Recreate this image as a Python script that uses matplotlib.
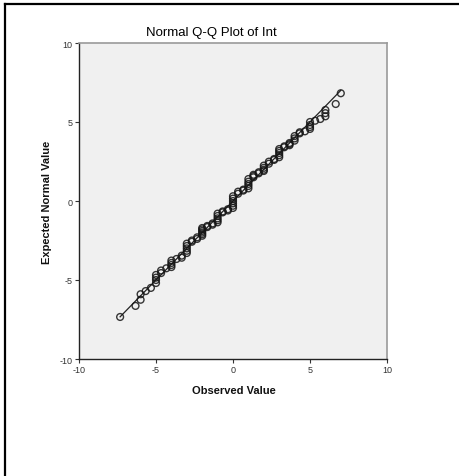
import matplotlib
matplotlib.use("Agg")
import matplotlib.pyplot as plt
from matplotlib.lines import Line2D

plt.rcParams['font.family'] = ['Liberation Sans', 'DejaVu Sans']
plt.rcParams['axes.unicode_minus'] = False

# observed values (ties at multiples of 1/3) and their expected normal values
observed = [
    -7.33, -6.33, -6.0, -6.0, -5.67, -5.33,
    -5.0, -5.0, -5.0, -5.0, -4.67, -4.67, -4.33,
    -4.0, -4.0, -4.0, -4.0, -3.67, -3.33, -3.33,
    -3.0, -3.0, -3.0, -3.0, -3.0, -2.67, -2.67, -2.33, -2.33,
    -2.0, -2.0, -2.0, -2.0, -2.0, -2.0, -1.67, -1.67, -1.33, -1.33,
    -1.0, -1.0, -1.0, -1.0, -1.0, -0.67, -0.67, -0.33, -0.33,
    0.0, 0.0, 0.0, 0.0, 0.0, 0.0, 0.33, 0.33, 0.67, 0.67,
    1.0, 1.0, 1.0, 1.0, 1.0, 1.33, 1.33, 1.33, 1.67, 1.67,
    2.0, 2.0, 2.0, 2.0, 2.33, 2.33, 2.67, 2.67,
    3.0, 3.0, 3.0, 3.0, 3.0, 3.33, 3.33, 3.67, 3.67, 3.67,
    4.0, 4.0, 4.0, 4.33, 4.33, 4.67,
    5.0, 5.0, 5.0, 5.0, 5.33, 5.67, 6.0, 6.0, 6.0, 6.67, 7.0,
]
expected = [
    -7.34, -6.64, -6.25, -5.9, -5.7, -5.5,
    -5.19, -5.0, -4.85, -4.68, -4.56, -4.4, -4.26,
    -4.18, -4.05, -3.92, -3.77, -3.67, -3.59, -3.46,
    -3.29, -3.15, -3.0, -2.85, -2.7, -2.58, -2.5, -2.4, -2.3,
    -2.2, -2.1, -2.0, -1.9, -1.8, -1.71, -1.65, -1.58, -1.5, -1.42,
    -1.35, -1.22, -1.1, -0.95, -0.8, -0.72, -0.66, -0.6, -0.52,
    -0.44, -0.3, -0.15, 0.0, 0.15, 0.3, 0.46, 0.59, 0.66, 0.72,
    0.8, 0.95, 1.08, 1.22, 1.39, 1.5, 1.58, 1.66, 1.75, 1.82,
    1.9, 1.98, 2.1, 2.24, 2.36, 2.49, 2.6, 2.66,
    2.77, 2.9, 3.04, 3.17, 3.29, 3.4, 3.46, 3.53, 3.6, 3.67,
    3.82, 3.96, 4.11, 4.28, 4.35, 4.41,
    4.56, 4.68, 4.81, 5.0, 5.08, 5.19, 5.36, 5.56, 5.76, 6.14, 6.82,
]
ticks = [-10, -5, 0, 5, 10]

fig = plt.figure(figsize=(4.59, 4.77), dpi=100)
ax = fig.add_axes([79 / 459, 1 - 360 / 477, 308 / 459, 316 / 477])
ax.set_facecolor('#f0f0f0')

# reference line y = x across the data range
lo, hi = min(observed), max(observed)
ax.plot([lo, hi], [lo, hi], color='#222222', lw=0.9, zorder=2)
ax.scatter(observed, expected, s=24, facecolors='none', edgecolors='#151515',
           linewidths=1.0, alpha=0.85, zorder=3)

ax.set_xlim(-10, 10)
ax.set_ylim(-10, 10)
ax.set_xticks(ticks)
ax.set_yticks(ticks)
ax.tick_params(axis='both', direction='out', length=3, width=0.8,
               labelsize=6.5, colors='#333333', pad=1.5)

for side in ['top', 'right']:
    ax.spines[side].set_color('#9a9a9a')
    ax.spines[side].set_linewidth(1.2)
for side in ['left', 'bottom']:
    ax.spines[side].set_color('#222222')
    ax.spines[side].set_linewidth(1.0)

fig.text(211.5 / 459, 1 - 33 / 477, 'Normal Q-Q Plot of Int', ha='center',
         va='center', fontsize=9.5, color='#000000')
fig.text(234 / 459, 1 - 391.5 / 477, 'Observed Value', ha='center',
         va='center', fontsize=8, fontweight='bold', color='#111111')
fig.text(47 / 459, 1 - 202 / 477, 'Expected Normal Value', ha='center',
         va='center', rotation=90, fontsize=8, fontweight='bold', color='#111111')

# outer frame lines (top and left only)
fig.add_artist(Line2D([5 / 459, 1], [1 - 4.5 / 477, 1 - 4.5 / 477],
                      transform=fig.transFigure, color='black', lw=1.6))
fig.add_artist(Line2D([5 / 459, 5 / 459], [0, 1 - 4.5 / 477],
                      transform=fig.transFigure, color='black', lw=1.6))

fig.savefig('out.png', dpi=100)
